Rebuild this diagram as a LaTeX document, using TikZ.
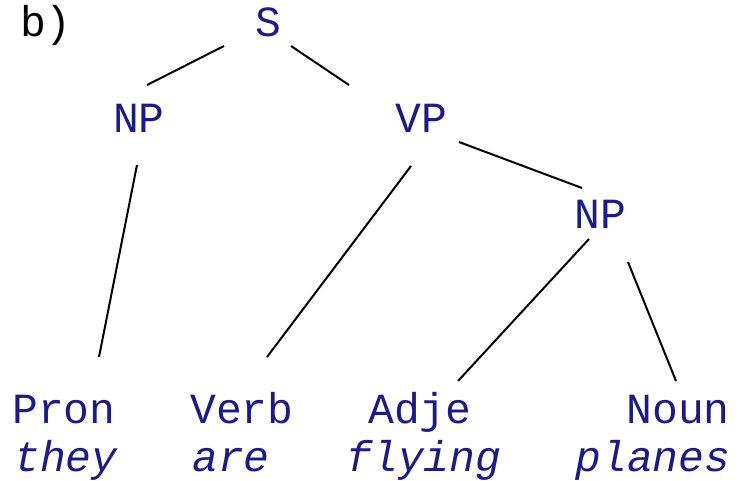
\documentclass[tikz,border=0pt]{standalone}
\usepackage{fontspec}
\setmonofont{Liberation Mono}
\definecolor{treeblue}{RGB}{26,26,140}
\begin{document}
\begin{tikzpicture}[x=1pt,y=-1pt,
  lbl/.style={font=\ttfamily\fontsize{43}{43}\selectfont, text=treeblue, inner sep=0pt, anchor=base},
  word/.style={lbl, font=\ttfamily\itshape\fontsize{43}{43}\selectfont},
  branch/.style={line width=2pt, black}]
\useasboundingbox (0,0) rectangle (741,480);

% panel tag
\node[lbl, text=black] (tag) at (46,36) {b)};

% phrase nodes
\node[lbl] (S)   at (268,36)  {S};
\node[lbl] (NP1) at (139,132) {NP};
\node[lbl] (VP)  at (421,132) {VP};
\node[lbl] (NP2) at (600,228) {NP};

% part-of-speech row
\node[lbl] (pron) at (64,423)  {Pron};
\node[lbl] (verb) at (242,423) {Verb};
\node[lbl] (adje) at (420,423) {Adje};
\node[lbl] (noun) at (678,423) {Noun};

% word row
\node[word] (they)   at (66,471)  {they};
\node[word] (are)    at (231,471) {are};
\node[word] (flying) at (424,471) {flying};
\node[word] (planes) at (653,471) {planes};

% branch end points
\coordinate (S-l)   at (224,46);
\coordinate (S-r)   at (291,46);
\coordinate (NP1-t) at (147,85);
\coordinate (NP1-b) at (137,165);
\coordinate (VP-t)  at (349,85);
\coordinate (VP-b)  at (411,166);
\coordinate (VP-r)  at (459,142);
\coordinate (NP2-t) at (582,188);
\coordinate (NP2-l) at (589,239);
\coordinate (NP2-r) at (628,262);
\coordinate (pron-t) at (99,357);
\coordinate (verb-t) at (267,357);
\coordinate (adje-t) at (458,381);
\coordinate (noun-t) at (676,381);

% branches
\draw[branch] (S-l) -- (NP1-t);
\draw[branch] (S-r) -- (VP-t);
\draw[branch] (NP1-b) -- (pron-t);
\draw[branch] (VP-b) -- (verb-t);
\draw[branch] (VP-r) -- (NP2-t);
\draw[branch] (NP2-l) -- (adje-t);
\draw[branch] (NP2-r) -- (noun-t);
\end{tikzpicture}
\end{document}
